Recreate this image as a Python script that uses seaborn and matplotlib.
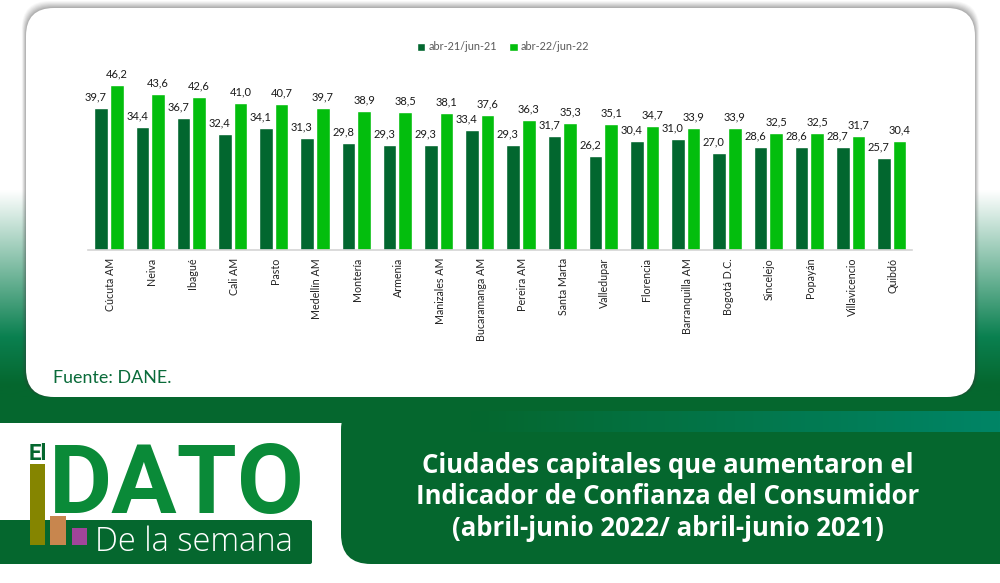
import numpy as np
import pandas as pd
import matplotlib
matplotlib.use("Agg")
import matplotlib.pyplot as plt
import seaborn as sns
from matplotlib.colors import LinearSegmentedColormap
from matplotlib.patches import FancyBboxPatch, Rectangle
from matplotlib.transforms import ScaledTranslation

# --- Data ---
ciudades = ["Cúcuta AM", "Neiva", "Ibagué", "Cali AM", "Pasto", "Medellín AM", "Montería",
            "Armenia", "Manizales AM", "Bucaramanga AM", "Pereira AM", "Santa Marta",
            "Valledupar", "Florencia", "Barranquilla AM", "Bogotá D.C.", "Sincelejo",
            "Popayán", "Villavicencio", "Quibdó"]
abr_21 = [39.7, 34.4, 36.7, 32.4, 34.1, 31.3, 29.8, 29.3, 29.3, 33.4,
          29.3, 31.7, 26.2, 30.4, 31.0, 27.0, 28.6, 28.6, 28.7, 25.7]
abr_22 = [46.2, 43.6, 42.6, 41.0, 40.7, 39.7, 38.9, 38.5, 38.1, 37.6,
          36.3, 35.3, 35.1, 34.7, 33.9, 33.9, 32.5, 32.5, 31.7, 30.4]
periodos = ["abr-21/jun-21", "abr-22/jun-22"]

titulo = "Ciudades capitales que aumentaron el\nIndicador de Confianza del Consumidor\n(abril-junio 2022/ abril-junio 2021)"
fuente = "Fuente: DANE."

DARK = "#02672F"
LIGHT = "#03BE0D"
W, H = 1000, 583

sns.set_theme(style="white")
plt.rcParams["font.family"] = ["Lato", "DejaVu Sans"]

df = pd.DataFrame({"ciudad": ciudades, periodos[0]: abr_21, periodos[1]: abr_22})
df = df.melt(id_vars="ciudad", var_name="periodo", value_name="valor")

fig = plt.figure(figsize=(W / 100, H / 100), dpi=100)

# --- Background, drawn in pixel coordinates ---
bg = fig.add_axes([0, 0, 1, 1], zorder=0)
bg.set_xlim(0, W)
bg.set_ylim(H, 0)
bg.axis("off")


def gradient(ax, x0, x1, y0, y1, stops, vertical=True):
    cmap = LinearSegmentedColormap.from_list("g", stops)
    g = np.linspace(0, 1, 256)
    g = g[:, None] if vertical else g[None, :]
    ax.imshow(g, extent=(x0, x1, y1, y0), cmap=cmap, aspect="auto", zorder=1, vmin=0, vmax=1)


gradient(bg, 0, W, 190, 400, [(0, "#FFFFFF"), (0.7, "#0A8050"), (0.93, "#05672E"), (1, "#05672E")])
bg.set_xlim(0, W)
bg.set_ylim(H, 0)

# panel shadow
for i, a in zip(range(7, 0, -1), [0.04, 0.05, 0.06, 0.07, 0.08, 0.09, 0.10]):
    bg.add_patch(FancyBboxPatch((26 - i * 0.6, 8 - i), 949 + i * 1.2, 389 + i,
                                boxstyle="round,pad=0,rounding_size=28", fc="#404040", ec="none",
                                alpha=a, zorder=2))
bg.add_patch(FancyBboxPatch((26, 8), 949, 389, boxstyle="round,pad=0,rounding_size=28",
                            fc="white", ec="none", zorder=3))
bg.text(53, 378, fuente, color="#0A6B3A", fontsize=12.9, va="center", ha="left", zorder=4)

# bottom banner
bg.add_patch(Rectangle((0, 397), W, 30, fc="#05672E", ec="none", zorder=2))
bg.add_patch(Rectangle((0, 423), W, 160, fc="white", ec="none", zorder=4))
bg.add_patch(FancyBboxPatch((341, 400), 720, 164, boxstyle="round,pad=0,rounding_size=30",
                            fc="#05672E", ec="none", zorder=5))
cmap_band = LinearSegmentedColormap.from_list("b", ["#05672E", "#008566"])
bg.imshow(np.linspace(0, 1, 256)[None, :], extent=(470, 1000, 432, 411), cmap=cmap_band,
          aspect="auto", zorder=6)
bg.set_xlim(0, W)
bg.set_ylim(H, 0)
bg.text(668, 497, titulo, color="white", fontsize=18.5, fontweight="bold", family="Open Sans",
        ha="center", va="center", linespacing=1.21, zorder=7)

# logo
bg.add_patch(FancyBboxPatch((-10, 520), 322, 44, boxstyle="round,pad=0,rounding_size=2",
                            fc="#05672E", ec="none", zorder=5))
bg.text(49, 513, "DATO", color="#0A8A38", fontsize=70, fontweight="bold", family="Roboto",
        ha="left", va="baseline", zorder=6)
bg.text(29, 460, "El", color="#05672E", fontsize=16, fontweight="bold", family="Roboto",
        ha="left", va="baseline", zorder=6)
bg.add_patch(Rectangle((30, 464), 15, 81, fc="#858500", ec="none", zorder=7))
bg.add_patch(Rectangle((50, 516), 16, 29, fc="#C8864E", ec="none", zorder=7))
bg.add_patch(Rectangle((72, 528), 15, 17, fc="#A0459A", ec="none", zorder=7))
bg.text(95, 551, "De la semana", color="white", fontsize=23.5, fontweight="light", family="Open Sans",
        ha="left", va="baseline", zorder=7)

# --- Chart ---
ax = fig.add_axes([88.4 / W, 1 - 249.5 / H, 824 / W, 200 / H], zorder=2)
ax.patch.set_alpha(0)
sns.barplot(data=df, x="ciudad", y="valor", hue="periodo", palette=[DARK, LIGHT],
            width=0.76, gap=0.14, saturation=1, ax=ax)
ax.set_xlim(-0.5, 19.5)
ax.set_ylim(0, 56)
ax.set_xlabel("")
ax.set_ylabel("")
ax.set_yticks([])
sns.despine(ax=ax, left=True)
ax.spines["bottom"].set_color("#D4D4D4")
ax.spines["bottom"].set_linewidth(1.2)
ax.tick_params(axis="x", length=0, pad=6, labelsize=7.7, labelcolor="#222222")
plt.setp(ax.get_xticklabels(), rotation=90, ha="center", va="top")
shift = ScaledTranslation(1.5 / 100, 0, fig.dpi_scale_trans)
for lab in ax.get_xticklabels():
    lab.set_transform(lab.get_transform() + shift)

for k, container in enumerate(ax.containers):
    for bar, val in zip(container, [abr_21, abr_22][k]):
        ax.annotate(f"{val:.1f}".replace(".", ","),
                    (bar.get_x() + bar.get_width() / 2, bar.get_height()),
                    xytext=(-3.8 if k == 0 else 0, 4), textcoords="offset points",
                    ha="center", va="bottom", fontsize=8, color="#1A1A1A")

sns.move_legend(ax, "center", bbox_to_anchor=(503 / W, 1 - 47 / H), bbox_transform=fig.transFigure,
                ncol=2, frameon=False, title=None, fontsize=7.8, labelcolor="#595959",
                handlelength=0.8, handleheight=0.8, handletextpad=0.3, columnspacing=1.1)

fig.savefig("out.png", dpi=100)
